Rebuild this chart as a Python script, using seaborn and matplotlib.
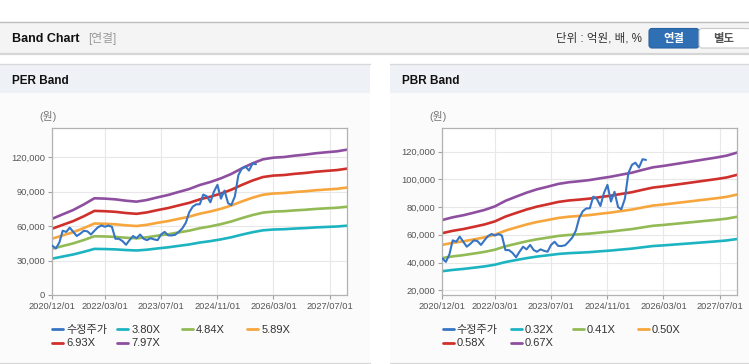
import numpy as np
import pandas as pd
import matplotlib
matplotlib.use("Agg")
import matplotlib.pyplot as plt
import seaborn as sns
from matplotlib.patches import Rectangle, FancyBboxPatch
from matplotlib.lines import Line2D

# ---------------- data ----------------
band_start = "2020-12-01"
band_end = "2027-12-01"
price_start = "2020-12-01"

price_label = "수정주가"
# monthly adjusted price (won, thousands)
price_k = [43.0, 40.5, 46.0, 56.0, 55.0, 58.7, 55.0, 51.4, 53.5, 56.0,
           55.5, 52.7, 56.0, 59.1, 60.6, 59.5, 60.5, 59.5, 49.0, 49.0,
           47.0, 43.8, 47.8, 51.4, 49.5, 52.7, 49.0, 47.8, 49.5, 48.5,
           47.8, 52.7, 55.0, 52.0, 51.9, 52.5, 55.0, 58.0, 63.0, 72.0,
           77.0, 79.0, 79.1, 87.5, 86.0, 80.8, 90.0, 96.0, 84.0, 91.0,
           80.0, 78.4, 86.0, 104.4, 110.4, 112.0, 108.5, 114.5, 114.0]

# quarterly forward EPS / BPS (won, thousands)
per_eps_k = [8.344, 8.82, 9.30, 9.91, 10.58, 10.54, 10.46, 10.31, 10.21, 10.39,
             10.68, 10.94, 11.27, 11.59, 12.03, 12.36, 12.76, 13.24, 13.85, 14.40,
             14.84, 15.02, 15.09, 15.24, 15.35, 15.50, 15.61, 15.71, 15.90]
per_multiples = [3.80, 4.84, 5.89, 6.93, 7.97]
per_labels = ["3.80X", "4.84X", "5.89X", "6.93X", "7.97X"]

pbr_bps_k = [105.5, 108.4, 110.6, 113.4, 116.3, 120.1, 126.1, 130.6, 134.9, 138.5,
             141.3, 144.3, 146.1, 147.2, 148.5, 150.4, 152.1, 154.3, 156.4, 159.4,
             162.2, 163.7, 165.5, 167.3, 169.1, 170.9, 172.7, 174.8, 178.1]
pbr_multiples = [0.32, 0.41, 0.50, 0.58, 0.67]
pbr_labels = ["0.32X", "0.41X", "0.50X", "0.58X", "0.67X"]

xtick_dates = ["2020-12-01", "2022-03-01", "2023-07-01", "2024-11-01", "2026-03-01", "2027-07-01"]
per_yticks = [0, 30000, 60000, 90000, 120000]
pbr_yticks = [20000, 40000, 60000, 80000, 100000, 120000]
per_ylim = (0, 145300)
pbr_ylim = (16600, 136800)

price_color = "#3674c4"
band_colors = ["#1db4c2", "#92ba55", "#f6a63c", "#d0302b", "#8f4fa0"]

# ---------------- setup ----------------
sns.set_theme(style="white")
plt.rcParams["font.family"] = ["Liberation Sans", "Noto Sans CJK KR", "DejaVu Sans"]

W, H = 749, 364
fig = plt.figure(figsize=(W / 100, H / 100), dpi=100)
fig.patch.set_facecolor("white")

# background / chrome axes in pixel units
bg = fig.add_axes([0, 0, 1, 1], zorder=-5)
bg.set_xlim(0, W)
bg.set_ylim(H, 0)
bg.axis("off")

# top header bar
bg.add_patch(Rectangle((0, 22), W, 31, facecolor="#f4f4f4", edgecolor="none"))
bg.plot([0, W], [21.7, 21.7], color="#bcbcbc", lw=1.0)
bg.plot([0, W], [53.5, 53.5], color="#d6d6d6", lw=1.6)
bg.text(11.5, 38.5, "Band Chart", fontsize=9, fontweight="bold", color="#111111",
        va="center", ha="left")
bg.text(88, 38.5, "[연결]", fontsize=8.5, color="#9a9a9a", va="center", ha="left")
bg.text(642, 38.5, "단위 : 억원, 배, %", fontsize=8.3, color="#333333", va="center", ha="right")
bg.add_patch(FancyBboxPatch((649, 28.5), 50, 19.5, boxstyle="round,pad=0,rounding_size=3",
                            facecolor="#2f6fb4", edgecolor="#2a62a0", lw=0.8))
bg.text(674, 38.5, "연결", fontsize=8.2, fontweight="bold", color="white", va="center", ha="center")
bg.add_patch(FancyBboxPatch((699, 28.5), 52, 19.5, boxstyle="round,pad=0,rounding_size=3",
                            facecolor="white", edgecolor="#c8c8c8", lw=0.8))
bg.text(724, 38.5, "별도", fontsize=8.2, fontweight="bold", color="#555555", va="center", ha="center")

# panels
panels = [(0, 370, "PER Band"), (390, W - 390, "PBR Band")]
for x0, w, title in panels:
    bg.add_patch(Rectangle((x0, 64.5), w, 28.5, facecolor="#eef2f7", edgecolor="none"))
    bg.add_patch(Rectangle((x0, 93), w, 269, facecolor="#fbfbfb", edgecolor="none"))
    bg.plot([x0, x0 + w], [64.3, 64.3], color="#d8d8d8", lw=1.0)
    bg.plot([x0, x0 + w], [362.5, 362.5], color="#d8d8d8", lw=1.0)
    bg.text(x0 + 11.5, 80.5, title, fontsize=8.5, fontweight="bold", color="#111111",
            va="center", ha="left")

band_dates = pd.date_range(band_start, band_end, freq="3MS")
price_dates = pd.date_range(price_start, periods=len(price_k), freq="MS")
price_df = pd.DataFrame({"date": price_dates, "value": np.array(price_k) * 1000,
                         "series": price_label})


def make_band_df(base_k, multiples, labels):
    frames = []
    for m, lab in zip(multiples, labels):
        frames.append(pd.DataFrame({"date": band_dates,
                                    "value": np.array(base_k) * 1000 * m,
                                    "series": lab}))
    return pd.concat(frames, ignore_index=True)


def draw_chart(ax_left_px, base_k, multiples, labels, yticks, ylim, legend_x):
    ax = fig.add_axes([ax_left_px / W, (H - 295) / H, 295 / W, 166.7 / H])
    ax.set_facecolor("white")
    bdf = make_band_df(base_k, multiples, labels)
    sns.lineplot(data=bdf, x="date", y="value", hue="series", hue_order=labels,
                 palette=band_colors, lw=1.9, ax=ax, legend=False)
    sns.lineplot(data=price_df, x="date", y="value", color=price_color, lw=1.5,
                 ax=ax, legend=False, zorder=5)
    ax.set_xlim(pd.Timestamp(band_start), pd.Timestamp(band_end))
    ax.set_ylim(*ylim)
    xt = pd.to_datetime(xtick_dates)
    ax.set_xticks(xt)
    ax.set_xticklabels([d.strftime("%Y/%m/%d") for d in xt])
    ax.set_yticks(yticks)
    ax.set_yticklabels([f"{v:,}" for v in yticks])
    ax.set_xlabel("")
    ax.set_ylabel("")
    ax.grid(True, color="#e8e8e8", lw=0.8)
    ax.set_axisbelow(True)
    for s in ax.spines.values():
        s.set_color("#b2b2b2")
        s.set_linewidth(0.9)
    ax.tick_params(axis="both", which="both", length=3, width=0.8, color="#a0a0a0",
                   labelsize=6.7, labelcolor="#555555", pad=2, direction="out",
                   bottom=True, left=True)
    # unit label
    bg.text(ax_left_px - 4.5, 117, "(원)", fontsize=7.8, color="#777777", ha="center", va="center")
    # legend entries
    handles = [(price_color, price_label)] + list(zip(band_colors, labels))
    for i, (col, lab) in enumerate(handles):
        row, c = divmod(i, 4)
        xpx = legend_x[c]
        ypx = 330 + row * 13.5
        h = Line2D([], [], color=col, lw=2.0)
        fig.legend(handles=[h], labels=[lab], loc="center left",
                   bbox_to_anchor=(xpx / W, 1 - ypx / H), frameon=False,
                   fontsize=8.0, handlelength=1.0, handletextpad=0.25,
                   borderpad=0, borderaxespad=0, labelcolor="#333333")
    return ax


draw_chart(52.3, per_eps_k, per_multiples, per_labels, per_yticks, per_ylim,
           [52.3, 117.3, 182.3, 247.3])
draw_chart(442.3, pbr_bps_k, pbr_multiples, pbr_labels, pbr_yticks, pbr_ylim,
           [442.7, 511.0, 572.7, 637.7])

fig.savefig("out.png", dpi=100)
